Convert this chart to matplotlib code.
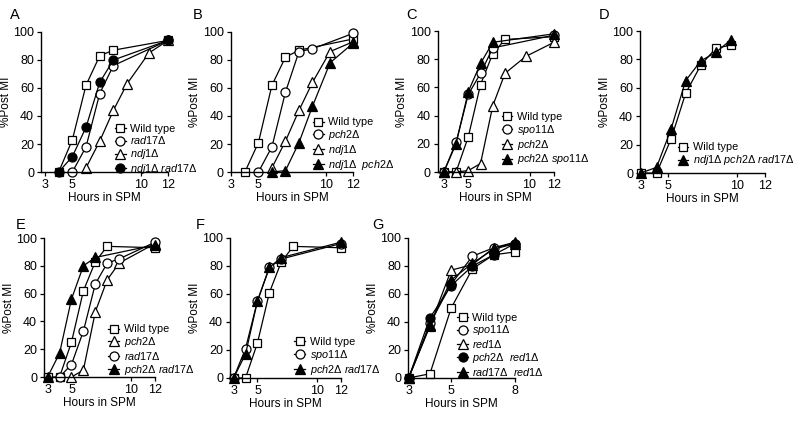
import matplotlib.pyplot as plt

plt.rcParams['font.family'] = ['Liberation Sans', 'DejaVu Sans']
plt.rcParams['mathtext.fontset'] = 'custom'
plt.rcParams['mathtext.it'] = 'Liberation Sans:italic'
plt.rcParams['mathtext.rm'] = 'Liberation Sans'


def it(g):
    return r'$\mathit{' + g + '}$Δ'


# ---- data (hours in SPM, % post MI) ----
# A
a_wt_h = [4, 5, 6, 7, 8, 12]
a_wt = [0, 23, 62, 83, 87, 94]
a_rad17_h = [5, 6, 7, 8, 12]
a_rad17 = [0, 18, 56, 76, 94]
a_ndj1_h = [6, 7, 8, 9, 10.6, 12]
a_ndj1 = [3, 22, 44, 63, 85, 94]
a_ndj1rad17_h = [4, 5, 6, 7, 8, 12]
a_ndj1rad17 = [0, 11, 32, 64, 80, 94]

# B
b_wt_h = [4, 5, 6, 7, 8, 12]
b_wt = [0, 21, 62, 82, 87, 95]
b_pch2_h = [5, 6, 7, 8, 9, 12]
b_pch2 = [0, 18, 57, 86, 88, 99]
b_ndj1_h = [6, 7, 8, 9, 10.3, 12]
b_ndj1 = [3, 22, 44, 64, 86, 93]
b_ndj1pch2_h = [6, 7, 8, 9, 10.3, 12]
b_ndj1pch2 = [0, 1, 21, 47, 78, 92]

# C
c_wt_h = [3, 4, 5, 6, 7, 8, 12]
c_wt = [0, 0, 25, 62, 84, 94, 96]
c_spo11_h = [3, 4, 5, 6, 7, 12]
c_spo11 = [0, 21, 55, 70, 88, 97]
c_pch2_h = [3, 4, 5, 6, 7, 8, 9.7, 12]
c_pch2 = [0, 0, 1, 6, 47, 70, 82, 92]
c_pch2spo11_h = [3, 4, 5, 6, 7, 12]
c_pch2spo11 = [0, 20, 57, 77, 92, 98]

# D
d_wt_h = [3, 4.15, 5.2, 6.25, 7.35, 8.45, 9.55]
d_wt = [0, 0, 24, 56, 76, 88, 90]
d_triple_h = [3, 4.15, 5.2, 6.25, 7.35, 8.45, 9.55]
d_triple = [0, 4, 31, 65, 79, 85, 94]

# E
e_wt_h = [3, 4, 5, 6, 7, 8, 12]
e_wt = [0, 0, 25, 62, 83, 94, 93]
e_pch2_h = [5, 6, 7, 8, 9, 12]
e_pch2 = [0, 5, 47, 70, 82, 96]
e_rad17_h = [4, 5, 6, 7, 8, 9, 12]
e_rad17 = [0, 9, 33, 67, 82, 85, 97]
e_pch2rad17_h = [3, 4, 5, 6, 7, 12]
e_pch2rad17 = [0, 17, 56, 80, 86, 95]

# F
f_wt_h = [3, 4, 5, 6, 7, 8, 12]
f_wt = [0, 0, 25, 61, 83, 94, 93]
f_spo11_h = [3, 4, 5, 6, 7, 12]
f_spo11 = [0, 21, 55, 79, 85, 96]
f_pch2rad17_h = [3, 4, 5, 6, 7, 12]
f_pch2rad17 = [0, 17, 55, 79, 86, 97]

# G
g_h = [3, 4, 5, 6, 7, 8]
g_wt = [0, 3, 50, 78, 88, 90]
g_spo11 = [0, 39, 67, 87, 93, 96]
g_red1 = [0, 37, 77, 81, 93, 97]
g_pch2red1 = [0, 43, 66, 80, 88, 96]
g_rad17red1 = [0, 38, 70, 82, 92, 96]

# marker styles
SQ = ('s', 'white', 6)
OC = ('o', 'white', 6.5)
OT = ('^', 'white', 6.5)
FC = ('o', 'black', 6.5)
FT = ('^', 'black', 6.5)


def series(ax, h, v, st, lab):
    m, fc, ms = st
    ax.plot(h, v, color='black', lw=0.9, marker=m, ms=ms, mfc=fc,
            mec='black', mew=0.9, clip_on=False, label=lab)


def setup(ax, xl, xt, leg_xy):
    ax.set_xlim(xl)
    ax.set_ylim(0, 100)
    ax.set_xticks(xt)
    ax.set_yticks([0, 20, 40, 60, 80, 100])
    ax.spines['top'].set_visible(False)
    ax.spines['right'].set_visible(False)
    for s in ['left', 'bottom']:
        ax.spines[s].set_linewidth(1.0)
    ax.tick_params(labelsize=9, length=3, width=0.9, pad=2)
    ax.set_xlabel('Hours in SPM', fontsize=8.5, labelpad=1)
    ax.set_ylabel('%Post MI', fontsize=8.5, labelpad=1)
    ax.legend(loc='lower left', bbox_to_anchor=leg_xy, frameon=False,
              fontsize=7.8, borderpad=0, borderaxespad=0, handlelength=1.0,
              handletextpad=0.4, labelspacing=0.08)


fig = plt.figure(figsize=(8, 4.22), dpi=100)

axA = fig.add_axes([0.0513, 0.5924, 0.1588, 0.3318])
series(axA, a_wt_h, a_wt, SQ, 'Wild type')
series(axA, a_rad17_h, a_rad17, OC, it('rad17'))
series(axA, a_ndj1_h, a_ndj1, OT, it('ndj1'))
series(axA, a_ndj1rad17_h, a_ndj1rad17, FC, it('ndj1') + ' ' + it('rad17'))
setup(axA, (2.71, 12), [3, 5, 10, 12], (0.58, -0.03))

axB = fig.add_axes([0.2884, 0.5924, 0.1529, 0.3318])
series(axB, b_wt_h, b_wt, SQ, 'Wild type')
series(axB, b_pch2_h, b_pch2, OC, it('pch2'))
series(axB, b_ndj1_h, b_ndj1, OT, it('ndj1'))
series(axB, b_ndj1pch2_h, b_ndj1pch2, FT, it('ndj1') + '  ' + it('pch2'))
setup(axB, (2.95, 12), [3, 5, 10, 12], (0.67, 0.0))

axC = fig.add_axes([0.5471, 0.5924, 0.1454, 0.3341])
series(axC, c_wt_h, c_wt, SQ, 'Wild type')
series(axC, c_spo11_h, c_spo11, OC, it('spo11'))
series(axC, c_pch2_h, c_pch2, OT, it('pch2'))
series(axC, c_pch2spo11_h, c_pch2spo11, FT, it('pch2') + ' ' + it('spo11'))
setup(axC, (2.5, 12), [3, 5, 10, 12], (0.55, 0.04))

axD = fig.add_axes([0.8, 0.5900, 0.1563, 0.3365])
series(axD, d_wt_h, d_wt, SQ, 'Wild type')
series(axD, d_triple_h, d_triple, FT,
       it('ndj1') + ' ' + it('pch2') + ' ' + it('rad17'))
setup(axD, (2.95, 12), [3, 5, 10, 12], (0.30, 0.04))

axE = fig.add_axes([0.055, 0.1066, 0.1388, 0.3294])
series(axE, e_wt_h, e_wt, SQ, 'Wild type')
series(axE, e_pch2_h, e_pch2, OT, it('pch2'))
series(axE, e_rad17_h, e_rad17, OC, it('rad17'))
series(axE, e_pch2rad17_h, e_pch2rad17, FT, it('pch2') + ' ' + it('rad17'))
setup(axE, (2.7, 12), [3, 5, 10, 12], (0.58, 0.0))

axF = fig.add_axes([0.2875, 0.1043, 0.1388, 0.3318])
series(axF, f_wt_h, f_wt, SQ, 'Wild type')
series(axF, f_spo11_h, f_spo11, OC, it('spo11'))
series(axF, f_pch2rad17_h, f_pch2rad17, FT, it('pch2') + ' ' + it('rad17'))
setup(axF, (2.7, 12), [3, 5, 10, 12], (0.58, 0.01))

axG = fig.add_axes([0.51, 0.1043, 0.1338, 0.3318])
series(axG, g_h, g_wt, SQ, 'Wild type')
series(axG, g_h, g_spo11, OC, it('spo11'))
series(axG, g_h, g_red1, OT, it('red1'))
series(axG, g_h, g_pch2red1, FC, it('pch2') + '  ' + it('red1'))
series(axG, g_h, g_rad17red1, FT, it('rad17') + '  ' + it('red1'))
setup(axG, (2.97, 8), [3, 5, 8], (0.46, 0.0))

# panel letters
for lab, x, y in [('A', 15, 15), ('B', 198, 15), ('C', 411, 15), ('D', 604, 15),
                  ('E', 21, 225), ('F', 200, 225), ('G', 378, 225)]:
    fig.text(x / 800, 1 - y / 422, lab, fontsize=10.5, ha='center', va='center')

plt.savefig('out.png', dpi=100)
